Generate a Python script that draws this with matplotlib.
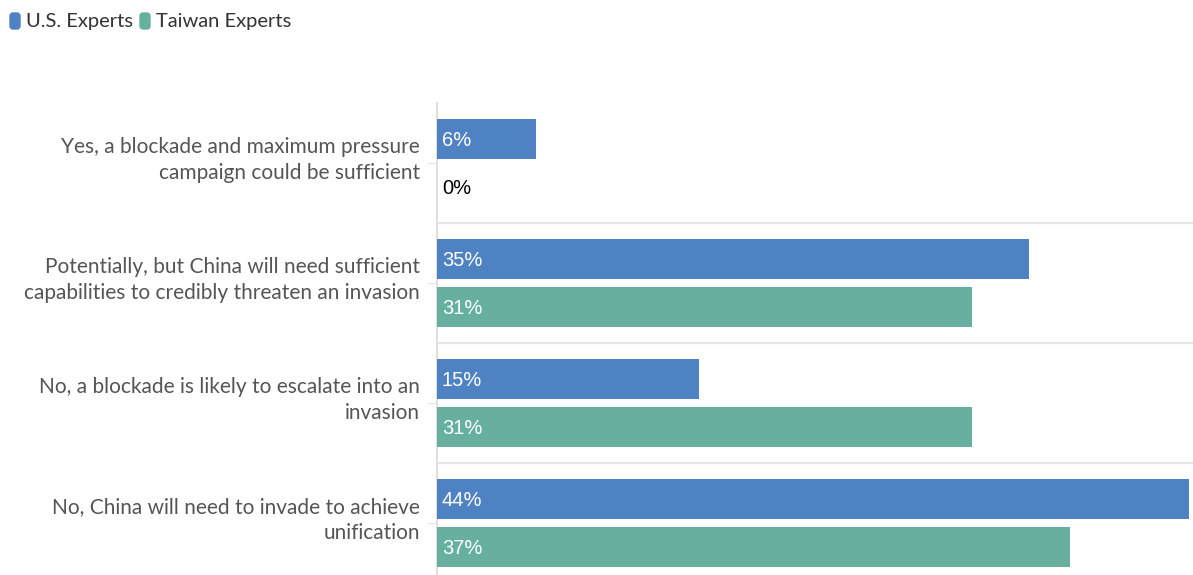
import matplotlib
matplotlib.use("Agg")
import matplotlib.pyplot as plt
import matplotlib.transforms as mtransforms
from matplotlib.patches import FancyBboxPatch
import numpy as np

categories = [
    "Yes, a blockade and maximum pressure\ncampaign could be sufficient",
    "Potentially, but China will need sufficient\ncapabilities to credibly threaten an invasion",
    "No, a blockade is likely to escalate into an\ninvasion",
    "No, China will need to invade to achieve\nunification",
]
us_values = [5.8, 34.6, 15.3, 44.0]
tw_values = [0.0, 31.3, 31.3, 37.0]
series_names = ["U.S. Experts", "Taiwan Experts"]
colors = ["#4f82c2", "#67b0a0"]

W, H = 1193, 575
fig = plt.figure(figsize=(W / 100, H / 100), dpi=100)
ax_left, ax_right = 437, 1193
ax_top, ax_bot = 103, 583
ax = fig.add_axes([ax_left / W, 1 - ax_bot / H, (ax_right - ax_left) / W, (ax_bot - ax_top) / H])

n = len(categories)
y = np.arange(n)
bh = 40 / 120
off = 24 / 120
ax.barh(y - off, us_values, height=bh, color=colors[0], zorder=3)
ax.barh(y + off, tw_values, height=bh, color=colors[1], zorder=3)

for i in range(n):
    for val, yy in ((us_values[i], y[i] - off), (tw_values[i], y[i] + off)):
        c = "white" if val > 0 else "black"
        ax.text(0.28, yy + 0.012, f"{round(val):.0f}%", color=c, va="center", ha="left",
                fontsize=14.5, family="Liberation Sans", zorder=4)

ax.set_xlim(0, 756 / 17.1)
ax.set_ylim(n - 0.5, -0.5)
ax.set_xticks([])
ax.set_yticks(y)
ax.set_yticklabels([])
ax.tick_params(axis="y", length=7, color="#e6e6e6")
lab_tr = ax.get_yaxis_transform() + mtransforms.ScaledTranslation(-17 / 100, 3 / 100, fig.dpi_scale_trans)
for yi, cat in zip(y, categories):
    ax.text(0, yi, cat, transform=lab_tr, ha="right", va="center", fontsize=15, family="Lato",
            color="#555555", linespacing=1.35, multialignment="right")
for b in np.arange(0.5, n - 0.5, 1):
    ax.axhline(b, color="#e6e6e6", lw=1.5, zorder=1)
for s in ["top", "right", "bottom"]:
    ax.spines[s].set_visible(False)
ax.spines["left"].set_color("#e0e0e0")
ax.spines["left"].set_linewidth(1.5)

# legend
lx = 10
for name, col in zip(series_names, colors):
    p = FancyBboxPatch((lx / W, 1 - 29 / H), 10 / W, 16 / H, boxstyle="round,pad=0,rounding_size=0.0025",
                       transform=fig.transFigure, color=col, mutation_aspect=W / H)
    fig.patches.append(p)
    t = fig.text((lx + 16) / W, 1 - 21 / H, name, fontsize=14.5, family="Lato", color="#333333", va="center")
    fig.canvas.draw()
    bb = t.get_window_extent()
    lx = bb.x1 + 7

fig.savefig("out.png", dpi=100)
